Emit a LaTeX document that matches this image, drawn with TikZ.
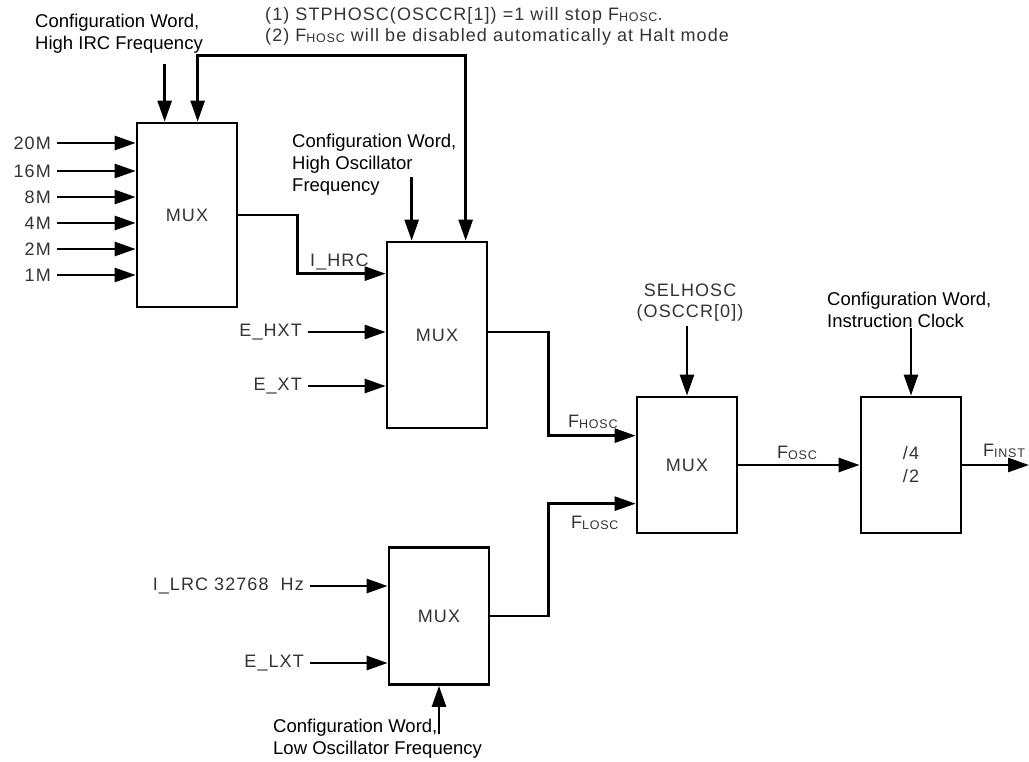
\documentclass[tikz,border=0pt]{standalone}
\usepackage{fontspec}
\setmainfont{Liberation Sans}
\usetikzlibrary{arrows.meta,calc,positioning}
\newcommand\lblfont{\fontsize{18.5}{22}\selectfont}
\newcommand\sigfont{\fontsize{18}{21}\selectfont\addfontfeature{LetterSpace=6}}
\newcommand\fsub[1]{\raisebox{-1pt}{\fontsize{12.5}{12.5}\selectfont #1}}
\tikzset{
  clk/mux/.style={draw, line width=2.7pt, minimum width=100pt, minimum height=136pt, font=\sigfont, text=black!80},
  clk/lbl/.style={font=\lblfont, align=left, inner sep=0pt},
  clk/sig/.style={font=\sigfont, text=black!80, inner sep=0pt},
  clk/in/.style={clk/sig, anchor=east, inner xsep=6pt},
  clk/wire/.style={line width=2.7pt},
  clk/arr/.style={clk/wire, -{Triangle[length=21pt,width=14pt]}},
  clk/dbl/.style={clk/wire, {Triangle[length=21pt,width=14pt]}-{Triangle[length=21pt,width=14pt]}}
}
\begin{document}
\begin{tikzpicture}[x=1pt,y=-1pt]
  \useasboundingbox (0,0) rectangle (1029,762);

  % blocks
  \node[clk/mux, minimum height=184pt] (mux1) at (187,215) {MUX};
  \node[clk/mux, minimum height=186pt] (mux2) at (437,335) {MUX};
  \node[clk/mux] (mux3) at (687,465) {MUX};
  \node[clk/mux, align=center] (div) at (911,465) {/4\\[2pt]/2};
  \node[clk/mux, minimum height=137pt] (mux4) at (439,616) {MUX};

  % internal RC taps
  \foreach \f/\y in {20M/143,16M/171,8M/197,4M/223,2M/249,1M/275}{
    \node[clk/in] (in\f) at (57,\y) {\f};
    \draw[clk/arr] (in\f) -- (in\f -| mux1.west);
  }

  % other inputs
  \node[clk/in] (ehxt) at (308,332) {E\_HXT};
  \node[clk/in] (ext) at (308,386) {E\_XT};
  \node[clk/in] (ilrc) at (310,586) {I\_LRC 32768\ \ Hz};
  \node[clk/in] (elxt) at (310,663) {E\_LXT};
  \draw[clk/arr] (ehxt) -- (ehxt -| mux2.west);
  \draw[clk/arr] (ext) -- (ext -| mux2.west);
  \draw[clk/arr] (ilrc) -- (ilrc -| mux4.west);
  \draw[clk/arr] (elxt) -- (elxt -| mux4.west);

  % notes and configuration words
  \node[clk/sig, anchor=north west, align=left] (note) at (265,7)
    {(1) STPHOSC(OSCCR[1]) =1 will stop F\fsub{HOSC}.\\(2) F\fsub{HOSC} will be disabled automatically at Halt mode};
  \node[clk/lbl, anchor=north west] (cfgirc) at (35,14) {Configuration Word,\\High IRC Frequency};
  \node[clk/lbl, anchor=north west] (cfghosc) at (292,134) {Configuration Word,\\High Oscillator\\Frequency};
  \node[clk/sig, align=center] (selh) at (690,303) {SELHOSC\\(OSCCR[0])};
  \node[clk/lbl, anchor=north west] (cfginst) at (827,292) {Configuration Word,\\Instruction Clock};
  \node[clk/lbl, anchor=north west] (cfglosc) at (273,719) {Configuration Word,\\Low Oscillator Frequency};

  \draw[clk/arr] ([xshift=29pt,yshift=58pt]mux1.north west) -- ([xshift=29pt]mux1.north west);
  \draw[clk/arr] ([xshift=26pt,yshift=64pt]mux2.north west) -- ([xshift=26pt]mux2.north west);
  \draw[clk/arr] ([yshift=-4pt]selh.south -| mux3.north) -- (mux3.north);
  \draw[clk/arr] (cfginst.south -| div.north) -- (div.north);
  \draw[clk/arr] ([yshift=-48pt]mux4.south) -- (mux4.south);

  % stop / halt control
  \coordinate (stpA) at ([xshift=62pt,yshift=66pt]mux1.north west);
  \coordinate (stpB) at ([xshift=80pt]mux2.north west);
  \draw[clk/dbl] (stpA |- mux1.north) -- (stpA) -| (stpB);

  % clock path
  \draw[clk/arr] (mux1.east) -- ++(59,0) |- ($(mux2.north west)+(0,33)$);
  \node[clk/sig, anchor=base west] (ihrc) at (310,267) {I\_HRC};
  \draw[clk/arr] (mux2.east |- ehxt) -- ++(60,0) |- ($(mux3.north west)+(0,40)$);
  \draw[clk/arr] (mux4.east) -- ++(58,0) |- ($(mux3.north west)+(0,108)$);
  \draw[clk/arr] (mux3) -- (div);
  \coordinate (fout) at (1029,465);
  \draw[clk/arr] (div) -- (fout);

  \node[clk/sig, anchor=base west] (fhosc) at (568,427) {F\fsub{HOSC}};
  \node[clk/sig, anchor=base west] (flosc) at (571,528) {F\fsub{LOSC}};
  \node[clk/sig, anchor=base west] (fosc) at (777,458) {F\fsub{OSC}};
  \node[clk/sig, anchor=base west] (finst) at (983,456) {F\fsub{INST}};
\end{tikzpicture}
\end{document}
